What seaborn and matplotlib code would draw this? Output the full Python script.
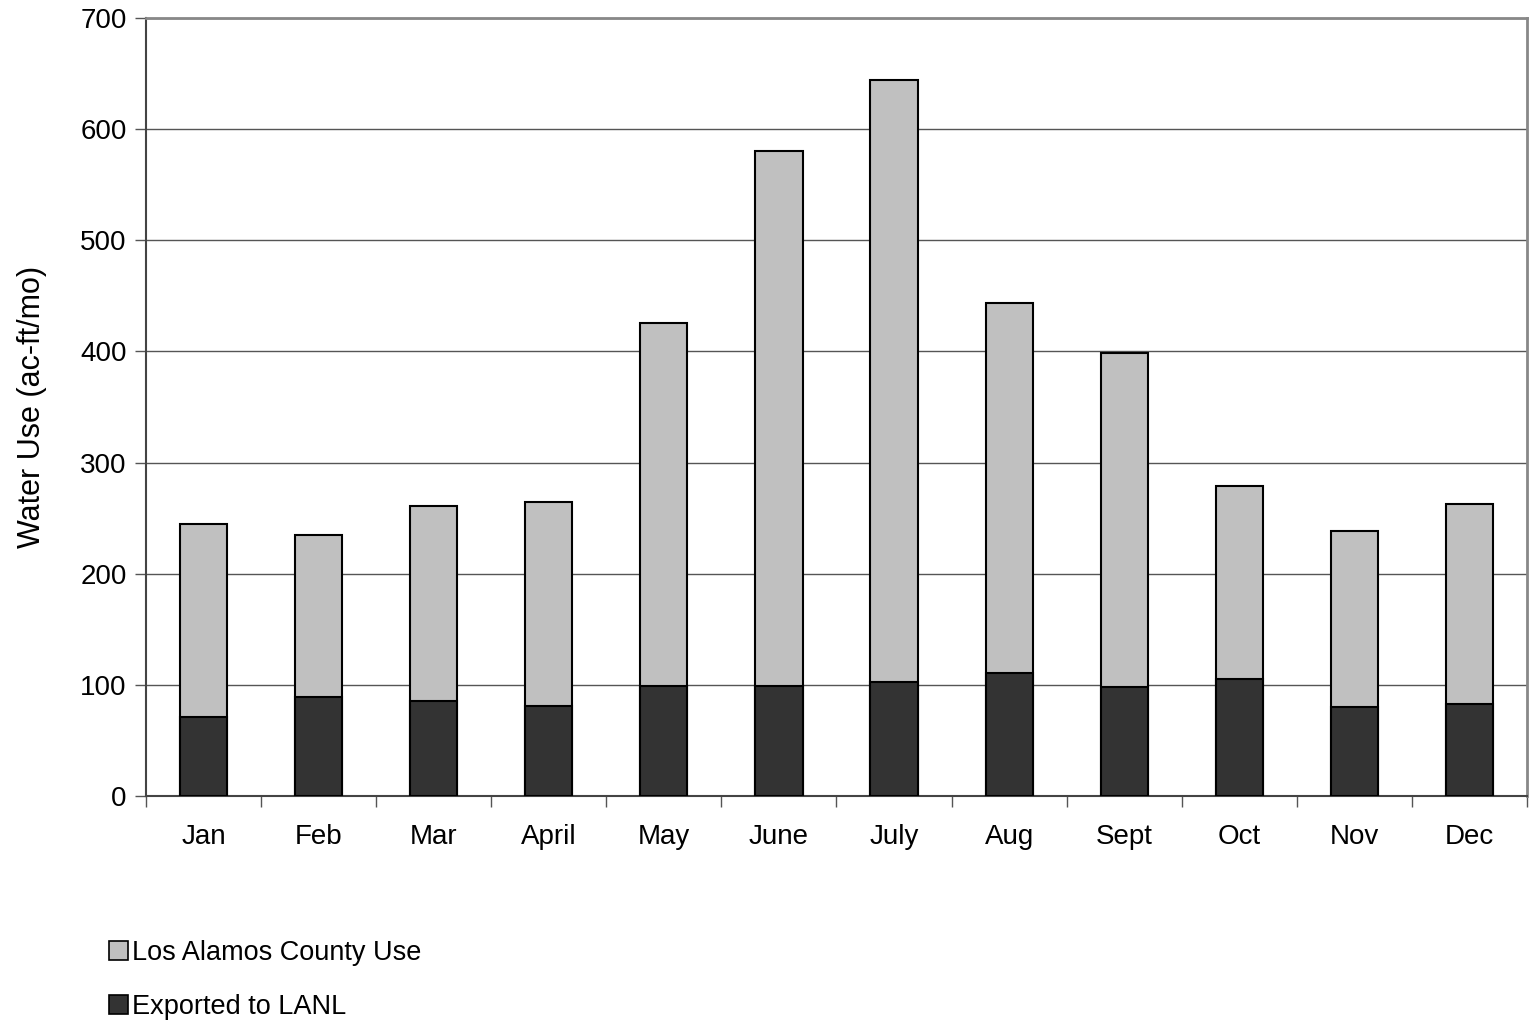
import matplotlib
matplotlib.use("Agg")
import matplotlib.pyplot as plt
import seaborn as sns
import pandas as pd
from matplotlib.patches import Patch

months = ["Jan", "Feb", "Mar", "April", "May", "June", "July", "Aug", "Sept", "Oct", "Nov", "Dec"]
lanl_export = [71, 89, 85.5, 81, 99, 99, 103, 111, 98, 105, 80, 83]
county_use = [173.5, 146, 175, 183.5, 327, 481, 541, 333, 301, 174, 158, 180]

sns.set_theme(style="white")
plt.rcParams['font.family'] = ['Liberation Sans', 'DejaVu Sans']
plt.rcParams['text.color'] = 'black'
plt.rcParams['axes.labelcolor'] = 'black'
plt.rcParams['xtick.color'] = 'black'
plt.rcParams['ytick.color'] = 'black'

df = pd.DataFrame({"month": months, "lanl": lanl_export, "county": county_use})
df["total"] = df["lanl"] + df["county"]

fig = plt.figure(figsize=(15.31, 10.21), dpi=100)
ax = fig.add_axes([146/1531, 1 - 796/1021, (1527-146)/1531, (796-18)/1021])

light = "#C0C0C0"
dark = "#333333"
sns.barplot(data=df, x="month", y="total", color=light, saturation=1, width=0.41,
            edgecolor="black", linewidth=1.5, ax=ax, order=months, zorder=3)
sns.barplot(data=df, x="month", y="lanl", color=dark, saturation=1, width=0.41,
            edgecolor="black", linewidth=1.5, ax=ax, order=months, zorder=4)

ax.set_ylim(0, 700)
ax.set_xlim(-0.5, 11.5)
ax.set_yticks(range(0, 701, 100))
ax.yaxis.grid(True, color="#555555", linewidth=1.0, zorder=0)
ax.set_axisbelow(True)
ax.set_xlabel("")
ax.set_ylabel("Water Use (ac-ft/mo)", fontsize=22, labelpad=24, color="black")
ax.tick_params(axis="both", labelsize=20, labelcolor="black", length=8, width=1,
               color="#555555", direction="out", left=True, bottom=False)
ax.tick_params(axis="y", pad=6)
ax.tick_params(axis="x", pad=12)

# minor ticks at category boundaries on x
ax.set_xticks([i - 0.5 for i in range(13)], minor=True)
ax.tick_params(axis="x", which="minor", length=8, width=1, color="#555555", bottom=True)

for s in ["left", "bottom"]:
    ax.spines[s].set_color("#444444")
    ax.spines[s].set_linewidth(1.5)
for s in ["top", "right"]:
    ax.spines[s].set_color("#888888")
    ax.spines[s].set_linewidth(2)

handles = [Patch(facecolor=light, edgecolor="black", linewidth=1.2, label="Los Alamos County Use"),
           Patch(facecolor=dark, edgecolor="black", linewidth=1.2, label="Exported to LANL")]
fig.legend(handles=handles, loc="upper left", bbox_to_anchor=(98/1531, 1 - 929/1021),
           frameon=False, fontsize=19.5, handlelength=0.7, handleheight=0.7,
           handletextpad=0.15, labelspacing=1.05, borderaxespad=0, labelcolor="black")

fig.savefig("out.png", dpi=100, facecolor="white")
